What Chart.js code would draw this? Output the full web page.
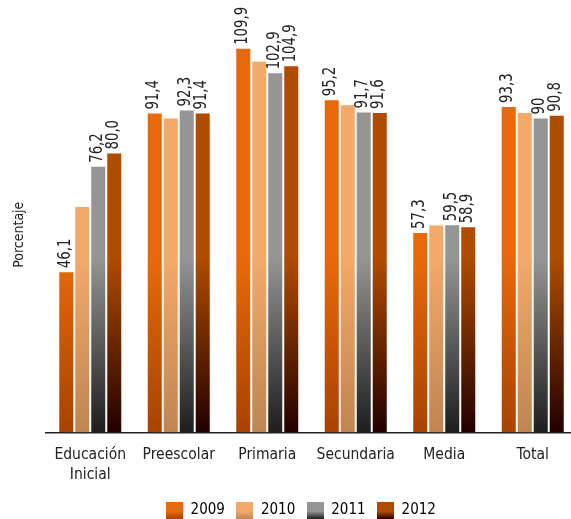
<!DOCTYPE html>
<html>
<head>
<meta charset="utf-8">
<script src="https://cdn.jsdelivr.net/npm/chart.js@4.4.1/dist/chart.umd.min.js"></script>
<style>
  html, body { margin: 0; padding: 0; background: #fff; overflow: hidden; }
  #wrap { width: 571px; height: 519px; overflow: hidden; }
</style>
</head>
<body>
<div id="wrap"><canvas id="chart" width="602" height="528"></canvas></div>
<script>
const categories = [["Educación", "Inicial"], "Preescolar", "Primaria", "Secundaria", "Media", "Total"];
const years = ["2009", "2010", "2011", "2012"];

const values2009 = [46.1, 91.4, 109.9, 95.2, 57.3, 93.3];
const values2010 = [64.7, 90.0, 106.2, 93.8, 59.4, 91.6];
const values2011 = [76.2, 92.3, 102.9, 91.7, 59.5, 90.0];
const values2012 = [80.0, 91.4, 104.9, 91.6, 58.9, 90.8];

// text printed above the bars (2010 has none in the original)
const labels2009 = ["46,1", "91,4", "109,9", "95,2", "57,3", "93,3"];
const labels2011 = ["76,2", "92,3", "102,9", "91,7", "59,5", "90"];
const labels2012 = ["80,0", "91,4", "104,9", "91,6", "58,9", "90,8"];

const topColors = ["#E8690B", "#F3A96A", "#959595", "#B04C00"];
const bottomColors = ["#A64300", "#BE8552", "#1E1E1E", "#220000"];

const FONT = "'DejaVu Sans Condensed', 'Liberation Sans Narrow', sans-serif";

function barFill(i) {
  return function(ctx) {
    const chart = ctx.chart;
    const area = chart.chartArea;
    if (!area) return topColors[i];
    const y = chart.scales.y;
    const start = y.getPixelForValue(50);
    const g = chart.ctx.createLinearGradient(0, area.top, 0, area.bottom);
    const f = Math.max(0, Math.min(1, (start - area.top) / (area.bottom - area.top)));
    g.addColorStop(0, topColors[i]);
    g.addColorStop(f, topColors[i]);
    g.addColorStop(1, bottomColors[i]);
    return g;
  };
}

function legendSwatch(i) {
  const c = document.createElement("canvas");
  c.width = 17;
  c.height = 17;
  const x = c.getContext("2d");
  const g = x.createLinearGradient(0, 0, 0, 17);
  g.addColorStop(0, topColors[i]);
  g.addColorStop(0.55, topColors[i]);
  g.addColorStop(1, bottomColors[i]);
  x.fillStyle = g;
  x.fillRect(0, 0, 17, 17);
  return c;
}

const swatches = years.map((y, i) => legendSwatch(i));

// rotated value labels, squeezed a bit to look like the narrow font of the original
const valueLabels = {
  id: "valueLabels",
  afterDatasetsDraw(chart) {
    const ctx = chart.ctx;
    chart.data.datasets.forEach((ds, di) => {
      if (!ds.valueText) return;
      const meta = chart.getDatasetMeta(di);
      meta.data.forEach((bar, j) => {
        ctx.save();
        ctx.translate(bar.x - 1, bar.y - 3);
        ctx.rotate(-Math.PI / 2);
        ctx.scale(0.82, 1);
        ctx.font = "18px " + FONT;
        ctx.fillStyle = "#222";
        ctx.textAlign = "left";
        ctx.textBaseline = "middle";
        ctx.fillText(ds.valueText[j], 0, 0);
        ctx.restore();
      });
    });
  }
};

const seriesValues = [values2009, values2010, values2011, values2012];
const seriesText = [labels2009, null, labels2011, labels2012];

new Chart(document.getElementById("chart"), {
  type: "bar",
  data: {
    labels: categories,
    datasets: years.map((yr, i) => ({
      label: yr,
      data: seriesValues[i],
      valueText: seriesText[i],
      backgroundColor: barFill(i),
      borderColor: "rgba(255,236,215,0.4)",
      borderWidth: 1,
      borderSkipped: "bottom",
      categoryPercentage: 0.723,
      barPercentage: 1.0
    }))
  },
  options: {
    responsive: false,
    animation: false,
    layout: { padding: { top: 37, left: 0, right: 0, bottom: 0 } },
    plugins: {
      tooltip: { enabled: false },
      legend: {
        position: "bottom",
        labels: {
          usePointStyle: true,
          pointStyleWidth: 17,
          boxHeight: 17,
          padding: 11.5,
          color: "#222",
          font: { family: FONT, size: 15 },
          generateLabels(chart) {
            return chart.data.datasets.map((ds, i) => ({
              text: ds.label,
              pointStyle: swatches[i],
              fillStyle: topColors[i],
              strokeStyle: "transparent",
              lineWidth: 0,
              datasetIndex: i,
              hidden: false
            }));
          }
        }
      }
    },
    scales: {
      x: {
        grid: { display: false, drawTicks: false },
        border: { display: true, color: "#222", width: 1.5 },
        ticks: {
          color: "#222",
          padding: 12,
          maxRotation: 0,
          autoSkip: false,
          font: { family: FONT, size: 15.5, lineHeight: 1.29 }
        },
        afterFit(s) { s.height = 59; }
      },
      y: {
        min: 0,
        max: 113,
        grid: { display: false, drawTicks: false },
        border: { display: false },
        ticks: { display: false },
        title: {
          display: true,
          text: "Porcentaje",
          color: "#222",
          font: { family: FONT, size: 14 },
          padding: { top: 11, bottom: 0 }
        },
        afterFit(s) { s.width = 46; }
      },
      yRight: {
        type: "linear",
        position: "right",
        grid: { display: false, drawTicks: false },
        border: { display: false },
        ticks: { display: false },
        afterFit(s) { s.width = 25; }
      }
    }
  },
  plugins: [valueLabels]
});
</script>
</body>
</html>
